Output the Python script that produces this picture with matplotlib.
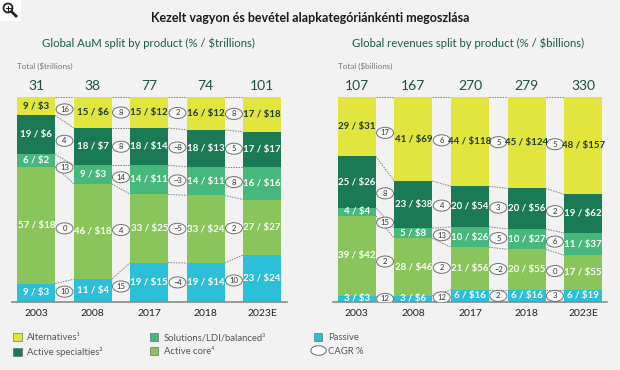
import numpy as np
import matplotlib
matplotlib.use("Agg")
import matplotlib.pyplot as plt
from matplotlib.patches import Ellipse, Rectangle, Patch
from matplotlib.lines import Line2D
import matplotlib.transforms as mtrans

plt.rcParams['font.family'] = ['Lato', 'DejaVu Sans']

W, H = 620, 370
BG = '#f2f2f2'

years = ['2003', '2008', '2017', '2018', '2023E']
products = ['Alternatives¹', 'Active specialties²', 'Solutions/LDI/balanced³', 'Active core⁴', 'Passive']
colors = ['#e2e53e', '#1b7a56', '#46b87b', '#89c55b', '#2bbfd8']
label_colors = ['#1d3a2a', 'white', 'white', 'white', 'white']

# rows = products (top to bottom), cols = years
aum_pct = [[9, 15, 15, 16, 17],
           [19, 18, 18, 18, 17],
           [6, 9, 14, 14, 16],
           [57, 46, 33, 33, 27],
           [9, 11, 19, 19, 23]]
aum_usd = [[3, 6, 12, 12, 18],
           [6, 7, 14, 13, 17],
           [2, 3, 11, 11, 16],
           [18, 18, 25, 24, 27],
           [3, 4, 15, 14, 24]]
aum_total = [31, 38, 77, 74, 101]
aum_cagr = [[16, 8, 2, 8],
            [4, 8, -8, 5],
            [13, 14, -3, 8],
            [0, 4, -5, 2],
            [10, 15, -4, 10]]

rev_pct = [[29, 41, 44, 45, 48],
           [25, 23, 20, 20, 19],
           [4, 5, 10, 10, 11],
           [39, 28, 21, 20, 17],
           [3, 3, 6, 6, 6]]
rev_usd = [[31, 69, 118, 124, 157],
           [26, 38, 54, 56, 62],
           [4, 8, 26, 27, 37],
           [42, 46, 56, 55, 55],
           [3, 6, 16, 16, 19]]
rev_total = [107, 167, 270, 279, 330]
rev_cagr = [[17, 6, 5, 5],
            [8, 4, 3, 2],
            [15, 13, 5, 6],
            [2, 2, -2, 0],
            [12, 12, 2, 3]]


def fmt(v):
    return str(v) if v >= 0 else '\u2212' + str(-v)


def draw(ax, pct, usd, totals, cagr):
    pct = np.array(pct, float)
    share = pct / pct.sum(axis=0) * 100
    x = np.arange(len(years))
    w = 0.67
    tops = 100 - np.cumsum(share, axis=0) + share
    bottoms = tops - share
    centers = bottoms + share / 2
    for k in range(len(products)):
        ax.bar(x, share[k], w, bottom=bottoms[k], color=colors[k], zorder=2)
        for i in x:
            ax.text(i, centers[k, i], f'{int(pct[k, i])} / ${usd[k][i]}', ha='center', va='center',
                    fontsize=7, fontweight='bold', color=label_colors[k], zorder=4)
    # dotted connectors between segment tops
    for k in range(len(products)):
        for i in range(len(years) - 1):
            ax.plot([i + w / 2, i + 1 - w / 2], [tops[k, i], tops[k, i + 1]], color='#808080',
                    lw=0.7, ls=(0, (1.5, 1.2)), zorder=1)
    # CAGR bubbles
    for k in range(len(products)):
        for i in range(len(years) - 1):
            y = (centers[k, i] + centers[k, i + 1]) / 2
            ax.add_patch(Ellipse((i + 0.5, y), 0.30, 5.4, fc='#f8f8f8', ec='#707070', lw=0.7, zorder=3))
            ax.text(i + 0.5, y, fmt(cagr[k][i]), ha='center', va='center', fontsize=5.5,
                    color='#333333', zorder=4)
    tr = mtrans.blended_transform_factory(ax.transData, ax.transAxes)
    for i, t in enumerate(totals):
        ax.text(i, 1.055, str(t), transform=tr, ha='center', va='center', fontsize=10, color='#1f4e44')
    ax.set_ylim(0, 100)
    ax.set_xticks(x)
    ax.set_xticklabels(years, fontsize=7.5, color='#222222')
    ax.tick_params(axis='x', length=0, pad=5)
    ax.set_yticks([])
    for s in ['top', 'left', 'right']:
        ax.spines[s].set_visible(False)
    ax.spines['bottom'].set_color('#8a8a8a')
    ax.spines['bottom'].set_linewidth(1.2)
    ax.set_facecolor('none')


fig = plt.figure(figsize=(W / 100, H / 100), dpi=100, facecolor=BG)

ax1 = fig.add_axes([12 / W, (H - 302) / H, 275 / W, 205 / H])
draw(ax1, aum_pct, aum_usd, aum_total, aum_cagr)
ax1.set_xlim(-0.43, 4.44)

ax2 = fig.add_axes([333 / W, (H - 302) / H, 274 / W, 205 / H])
draw(ax2, rev_pct, rev_usd, rev_total, rev_cagr)
ax2.set_xlim(-0.42, 4.42)

fig.text(0.5, 1 - 18 / H, 'Kezelt vagyon és bevétel alapkategóriánkénti megoszlása', ha='center',
         va='center', fontsize=9, fontweight='bold', color='#1a1a1a')
fig.text(148 / W, 1 - 43 / H, 'Global AuM split by product (% / $trillions)', ha='center', va='center',
         fontsize=8.2, color='#1c5a4a')
fig.text(468 / W, 1 - 43 / H, 'Global revenues split by product (% / $billions)', ha='center', va='center',
         fontsize=8.2, color='#1c5a4a')
fig.text(17 / W, 1 - 66 / H, 'Total ($trillions)', ha='left', va='center', fontsize=5.8, color='#777777')
fig.text(338 / W, 1 - 66 / H, 'Total ($billions)', ha='left', va='center', fontsize=5.8, color='#777777')

# magnifier icon
fig.add_artist(Rectangle((0, 1 - 21 / H), 21 / W, 21 / H, transform=fig.transFigure, fc='white', ec='none'))
fig.add_artist(Ellipse((8 / W, 1 - 8 / H), 9 / W, 9 / H, transform=fig.transFigure, fc='none', ec='#222222', lw=1.3))
fig.add_artist(Line2D([11.5 / W, 16 / W], [1 - 11.5 / H, 1 - 16 / H], transform=fig.transFigure, color='#222222', lw=2))
fig.add_artist(Line2D([5.5 / W, 10.5 / W], [1 - 8 / H, 1 - 8 / H], transform=fig.transFigure, color='#222222', lw=0.8))
fig.add_artist(Line2D([8 / W, 8 / W], [1 - 5.5 / H, 1 - 10.5 / H], transform=fig.transFigure, color='#222222', lw=0.8))

# legend
t = np.linspace(0, 2 * np.pi, 60)
ell_marker = np.column_stack([1.6 * np.cos(t), np.sin(t)])
handles = [Patch(fc=c, ec='#5a5a5a', lw=0.4) for c in colors]
handles.append(Line2D([], [], ls='none', marker=ell_marker, markersize=11, mfc='white',
                      mec='#666666', mew=0.7))
leg = fig.legend(handles, products + ['CAGR %'], ncol=3, loc='upper left',
                 bbox_to_anchor=(13 / W, 1 - 333 / H), frameon=False, fontsize=6.8,
                 handlelength=0.9, handleheight=0.9, handletextpad=0.6, columnspacing=5.0,
                 labelspacing=0.5, borderpad=0, borderaxespad=0)
for txt in leg.get_texts():
    txt.set_color('#555555')

fig.savefig('out.png', dpi=100, facecolor=BG)
